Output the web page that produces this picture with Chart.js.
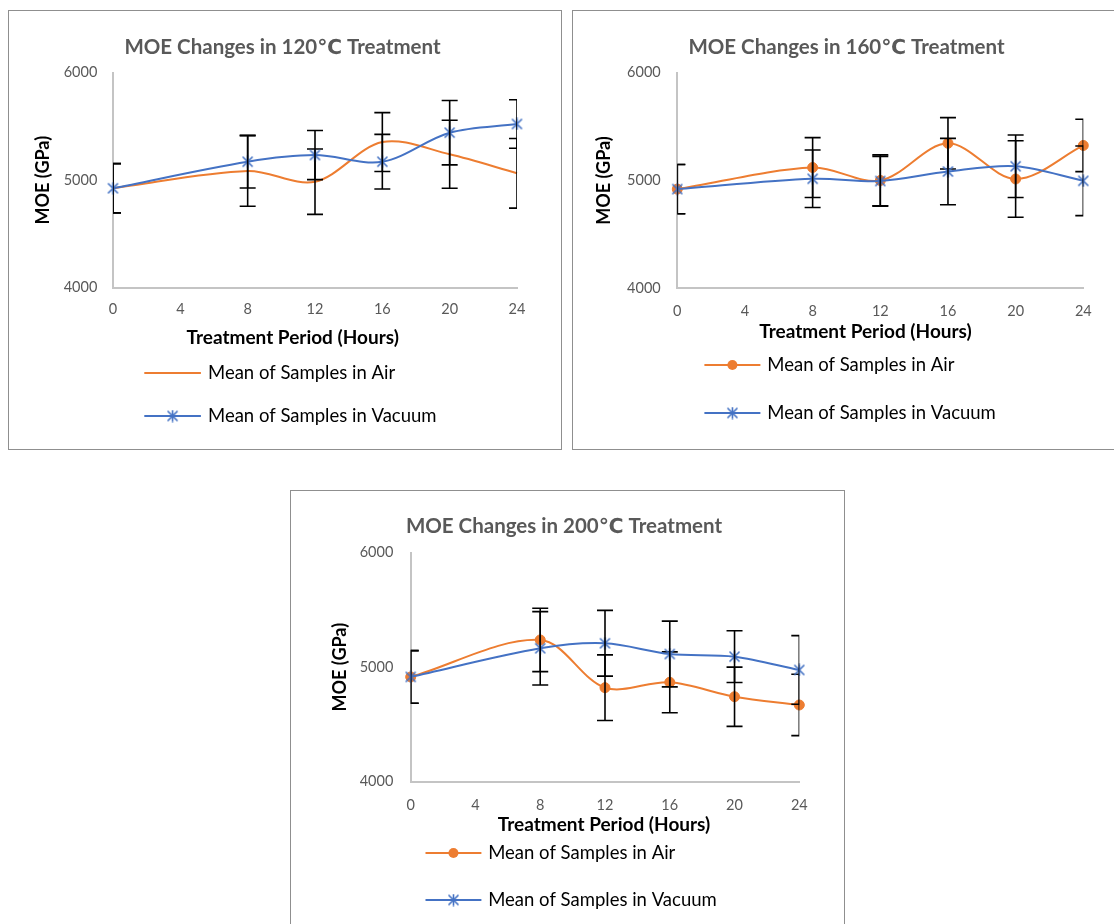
<!DOCTYPE html>
<html>
<head>
<meta charset="utf-8">
<script src="https://cdn.jsdelivr.net/npm/chart.js@4.4.0/dist/chart.umd.min.js"></script>
<style>
  body { margin: 0; background: #fff; width: 1114px; height: 924px; overflow: hidden; position: relative; }
  .box { position: absolute; border: 1px solid #8f8f8f; background: #fff; }
  canvas { display: block; }
</style>
</head>
<body>
<div class="box" style="left:8px;top:10px;width:552px;height:438px"><canvas id="c120" width="552" height="438"></canvas></div>
<div class="box" style="left:572px;top:10px;width:552px;height:438px"><canvas id="c160" width="552" height="438"></canvas></div>
<div class="box" style="left:290px;top:490px;width:553px;height:440px"><canvas id="c200" width="553" height="440"></canvas></div>
<script>
// --- data ---
const hours = [0, 8, 12, 16, 20, 24];
const xTicks = [0, 4, 8, 12, 16, 20, 24];
const yTicks = [4000, 5000, 6000];

const air120 = [4925, 5086, 4986, 5355, 5241, 5064];
const airErr120 = [229, 329, 304, 274, 316, 324];
const vac120 = [4925, 5172, 5234, 5172, 5442, 5523];
const vacErr120 = [229, 245, 229, 254, 299, 226];

const air160 = [4920, 5120, 5000, 5345, 5014, 5325];
const airErr160 = [229, 278, 238, 238, 355, 243];
const vac160 = [4920, 5016, 4995, 5083, 5132, 4997];
const vacErr160 = [229, 267, 229, 308, 290, 323];

const air200 = [4915, 5238, 4821, 4868, 4742, 4670];
const airErr200 = [230, 277, 287, 266, 259, 268];
const vac200 = [4915, 5165, 5209, 5115, 5092, 4976];
const vacErr200 = [230, 320, 287, 287, 226, 300];

const ORANGE = "#ED7D31";
const BLUE = "#4472C4";
const FONT = "Lato, 'DejaVu Sans', sans-serif";

// asterisk marker like the spreadsheet one
function starMarker(color) {
  const c = document.createElement("canvas");
  c.width = 13; c.height = 13;
  const g = c.getContext("2d");
  g.strokeStyle = color;
  g.lineWidth = 1.6;
  g.beginPath();
  g.moveTo(6.5, 0.5); g.lineTo(6.5, 12.5);
  g.moveTo(1.5, 1.5); g.lineTo(11.5, 11.5);
  g.moveTo(11.5, 1.5); g.lineTo(1.5, 11.5);
  g.stroke();
  return c;
}
const STAR = starMarker(BLUE);

// --- error bars, clipped to the plot area like the original ---
const errorBars = {
  id: "errorBars",
  afterDatasetDraw(chart, args) {
    const ds = chart.data.datasets[args.index];
    if (!ds.errors) return;
    const { ctx, chartArea: a, scales: { x, y } } = chart;
    ctx.save();
    ctx.beginPath();
    ctx.rect(a.left, a.top - 30, a.right - a.left, a.bottom - a.top + 60);
    ctx.clip();
    ctx.strokeStyle = "#000";
    ctx.lineWidth = 1.6;
    ds.data.forEach((p, i) => {
      const px = x.getPixelForValue(p.x);
      const top = y.getPixelForValue(p.y + ds.errors[i]);
      const bot = y.getPixelForValue(p.y - ds.errors[i]);
      ctx.beginPath();
      ctx.moveTo(px, top); ctx.lineTo(px, bot);
      ctx.moveTo(px - 8, top); ctx.lineTo(px + 8, top);
      ctx.moveTo(px - 8, bot); ctx.lineTo(px + 8, bot);
      ctx.stroke();
    });
    ctx.restore();
  }
};

// --- title, x axis title and the stacked legend ---
const boxText = {
  id: "boxText",
  afterDraw(chart, args, o) {
    const ctx = chart.ctx;
    ctx.save();
    ctx.textAlign = "center";
    ctx.textBaseline = "middle";
    ctx.fillStyle = "#595959";
    ctx.font = "bold 20.5px " + FONT;
    ctx.fillText(o.title, o.titleX, o.titleY);
    ctx.fillStyle = "#000";
    ctx.font = "bold 19px " + FONT;
    ctx.fillText("Treatment Period (Hours)", o.xTitleX, o.xTitleY);

    ctx.textAlign = "left";
    ctx.font = "18.5px " + FONT;
    chart.data.datasets.forEach((ds, i) => {
      const y = o.legendY[i];
      ctx.strokeStyle = ds.borderColor;
      ctx.lineWidth = 2;
      ctx.beginPath();
      ctx.moveTo(o.legendX0, y); ctx.lineTo(o.legendX1, y);
      ctx.stroke();
      const cx = (o.legendX0 + o.legendX1) / 2;
      if (ds.pointRadius > 0) {
        if (ds.pointStyle === "circle") {
          ctx.fillStyle = ds.borderColor;
          ctx.beginPath();
          ctx.arc(cx, y, ds.pointRadius, 0, Math.PI * 2);
          ctx.fill();
        } else {
          ctx.drawImage(ds.pointStyle, cx - ds.pointStyle.width / 2, y - ds.pointStyle.height / 2);
        }
      }
      ctx.fillStyle = "#000";
      ctx.fillText(ds.label, o.legendTextX, y);
    });
    ctx.restore();
  }
};

function makeChart(id, title, air, airErr, vac, vacErr, airMarkers, L) {
  const canvas = document.getElementById(id);
  const W = canvas.width, H = canvas.height;
  const XH = 30;
  return new Chart(canvas, {
    type: "line",
    data: {
      datasets: [
        {
          label: "Mean of Samples in Air",
          data: hours.map((h, i) => ({ x: h, y: air[i] })),
          errors: airErr,
          borderColor: ORANGE,
          backgroundColor: ORANGE,
          pointBackgroundColor: ORANGE,
          pointBorderColor: ORANGE,
          borderWidth: 2,
          tension: 0.33,
          pointStyle: "circle",
          pointRadius: airMarkers ? 5 : 0,
          pointBorderWidth: 1,
          order: 2,
          clip: 12
        },
        {
          label: "Mean of Samples in Vacuum",
          data: hours.map((h, i) => ({ x: h, y: vac[i] })),
          errors: vacErr,
          borderColor: BLUE,
          backgroundColor: BLUE,
          borderWidth: 2,
          tension: 0.33,
          pointStyle: STAR,
          pointRadius: 6,
          order: 1,
          clip: 12
        }
      ]
    },
    options: {
      responsive: false,
      animation: false,
      events: [],
      layout: { padding: { left: 0, top: L.top, right: W - L.right, bottom: H - L.bottom - XH } },
      plugins: {
        legend: { display: false },
        tooltip: { enabled: false },
        title: { display: false },
        boxText: {
          title: title,
          titleX: L.titleX, titleY: L.titleY,
          xTitleX: L.xTitleX, xTitleY: L.xTitleY,
          legendX0: L.legX0, legendX1: L.legX1, legendTextX: L.legTextX, legendY: L.legY
        }
      },
      scales: {
        x: {
          type: "linear",
          min: xTicks[0],
          max: xTicks[xTicks.length - 1],
          afterBuildTicks: s => { s.ticks = xTicks.map(v => ({ value: v })); },
          afterFit: s => { s.height = XH; },
          grid: { display: true, drawOnChartArea: false, drawTicks: false },
          border: { display: true, color: "#c4c4c4", width: 2 },
          ticks: { color: "#595959", padding: L.xPad, maxRotation: 0, font: { family: FONT, size: 14.5 } }
        },
        y: {
          min: yTicks[0],
          max: yTicks[yTicks.length - 1],
          afterBuildTicks: s => { s.ticks = yTicks.map(v => ({ value: v })); },
          afterFit: s => { s.width = L.left; },
          grid: { display: true, drawOnChartArea: false, drawTicks: false },
          border: { display: true, color: "#c4c4c4", width: 2 },
          ticks: { color: "#595959", padding: L.yPad, font: { family: FONT, size: 14.5 }, callback: v => String(v) },
          title: {
            display: true,
            text: "MOE (GPa)",
            color: "#000",
            font: { family: FONT, size: 18, weight: "bold" },
            padding: { top: L.yTitleX - 10.8, bottom: 0 }
          }
        }
      }
    },
    plugins: [errorBars, boxText]
  });
}

makeChart("c120", "MOE Changes in 120\u2103 Treatment", air120, airErr120, vac120, vacErr120, false, {
  left: 104, right: 508, top: 61.7, bottom: 276.7,
  xPad: 13.4, yPad: 15.7, yTitleX: 34,
  titleX: 273.5, titleY: 36, xTitleX: 283.7, xTitleY: 327,
  legX0: 135.3, legX1: 191.9, legTextX: 199, legY: [362, 405]
});

makeChart("c160", "MOE Changes in 160\u2103 Treatment", air160, airErr160, vac160, vacErr160, true, {
  left: 104.3, right: 510.3, top: 61.7, bottom: 277.3,
  xPad: 14.3, yPad: 16.6, yTitleX: 31,
  titleX: 273.5, titleY: 36, xTitleX: 292.5, xTitleY: 321,
  legX0: 131.4, legX1: 187.4, legTextX: 194.3, legY: [354, 402]
});

makeChart("c200", "MOE Changes in 200\u2103 Treatment", air200, airErr200, vac200, vacErr200, true, {
  left: 119.7, right: 508.3, top: 61.7, bottom: 290.7,
  xPad: 14.9, yPad: 17.4, yTitleX: 49,
  titleX: 273, titleY: 35, xTitleX: 313, xTitleY: 334,
  legX0: 134.5, legX1: 190.4, legTextX: 197.2, legY: [362, 409]
});
</script>
</body>
</html>
